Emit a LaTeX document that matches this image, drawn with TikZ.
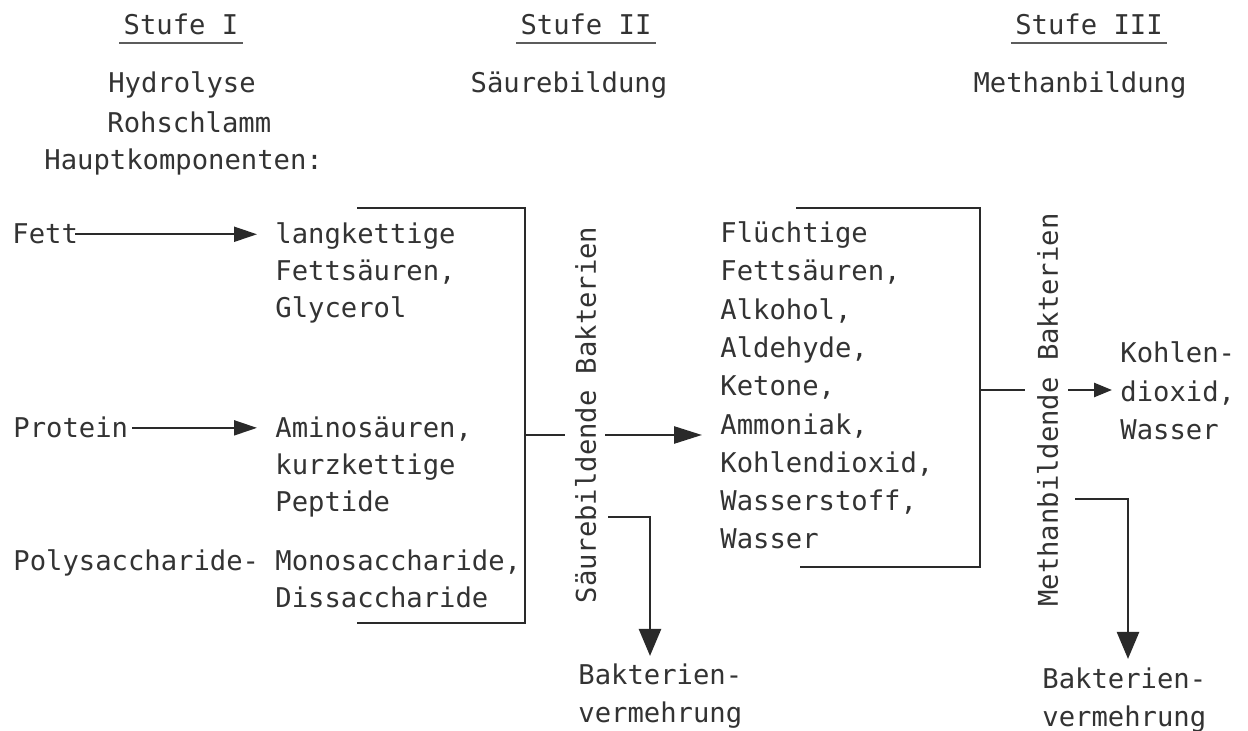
\documentclass[tikz,border=0pt]{standalone}
\usepackage{fontspec}
\newfontfamily\tw{DejaVu Sans Mono}
\usetikzlibrary{arrows.meta}
\definecolor{ink}{HTML}{333333}
\definecolor{lin}{HTML}{2A2A2A}
\tikzset{
  txt/.style={font=\tw\fontsize{13.6}{18.5}\selectfont, text=ink, inner sep=0pt, anchor=base west, align=left},
  ctr/.style={txt, anchor=base, align=center},
  ln/.style={draw=lin, line width=1.3pt},
  thinln/.style={draw=lin, line width=1pt},
  ul/.style={draw=ink!80, line width=0.9pt},
  arrA/.style={thinln, -{Triangle[length=11.5pt,width=7.5pt]}},
  arrB/.style={ln, -{Triangle[length=14pt,width=8.5pt]}},
  arrC/.style={ln, -{Triangle[length=9pt,width=7pt]}},
  arrD/.style={ln, -{Triangle[length=13.5pt,width=11pt]}},
  vtxt/.style={font=\tw\fontsize{13.6}{18.5}\selectfont, text=ink, inner sep=0pt, text height=9.9pt, text depth=0pt, rotate=90, anchor=center}
}
\begin{document}
\begin{tikzpicture}[x=0.5pt,y=-0.5pt]
\path[use as bounding box, fill=white] (0,0) rectangle (1248,731);
% headers
\node[ctr] (st1) at (181,35) {Stufe I};
\node[ctr] (st2) at (586,35) {Stufe II};
\node[ctr] (st3) at (1089,35) {Stufe III};
\draw[ul] ([xshift=-2pt,yshift=-4pt]st1.base west) -- ([xshift=2pt,yshift=-4pt]st1.base east);
\draw[ul] ([xshift=-2pt,yshift=-4pt]st2.base west) -- ([xshift=2pt,yshift=-4pt]st2.base east);
\draw[ul] ([xshift=-2pt,yshift=-4pt]st3.base west) -- ([xshift=2pt,yshift=-4pt]st3.base east);
\node[ctr] (hyd) at (182,93) {Hydrolyse};
\node[ctr] (sbild) at (569,93) {Säurebildung};
\node[ctr] (mbild) at (1080,93) {Methanbildung};
\node[txt] (roh) at (107,133) {Rohschlamm};
\node[txt] (haupt) at (44,170) {Hauptkomponenten:};
% left column
\node[txt] (fett) at (12,244) {Fett};
\node[txt] (prot) at (13,438) {Protein};
\node[txt] (poly) at (13,571) {Polysaccharide-};
% middle column (anchor = baseline of last line)
\node[txt] (lang) at (275,318) {langkettige\\Fettsäuren,\\Glycerol};
\node[txt] (amino) at (275,512) {Aminosäuren,\\kurzkettige\\Peptide};
\node[txt] (mono) at (275,608) {Monosaccharide,\\Dissaccharide};
% right column
\node[txt, font=\tw\fontsize{13.6}{19.15}\selectfont] (fl) at (720,549) {Flüchtige\\Fettsäuren,\\Alkohol,\\Aldehyde,\\Ketone,\\Ammoniak,\\Kohlendioxid,\\Wasserstoff,\\Wasser};
\node[txt, font=\tw\fontsize{13.6}{19.25}\selectfont] (ko) at (1120,440) {Kohlen-\\dioxid,\\Wasser};
\node[txt, font=\tw\fontsize{13.6}{19}\selectfont] (bak1) at (578,723) {Bakterien-\\vermehrung};
\node[txt, font=\tw\fontsize{13.6}{19}\selectfont] (bak2) at (1042,726) {Bakterien-\\vermehrung};
% vertical labels
\node[vtxt] (sb) at (586,415) {Säurebildende Bakterien};
\node[vtxt] (mb) at (1048,410) {Methanbildende Bakterien};
% arrows stage I
\draw[arrA] ([xshift=-1.5pt]fett.east) -- ([xshift=-9pt]lang.west |- fett.east);
\draw[arrA] ([xshift=2pt]prot.east) -- ([xshift=-9pt]amino.west |- prot.east);
% bracket 1
\coordinate (b1a) at (357,208);
\coordinate (b1b) at (525,208);
\coordinate (b1c) at (525,623);
\coordinate (b1d) at (357,623);
\coordinate (j1) at (525,435);
\draw[ln] (b1a) -- (b1b) -- (b1c) -- (b1d);
\draw[ln] (j1) -- ([xshift=-5.5pt]sb.north |- j1);
\draw[arrB] ([xshift=4.5pt]sb.south |- j1) -- ([xshift=-9pt]fl.west |- j1);
\coordinate (d1) at (650,517);
\draw[arrD] ([xshift=6pt]sb.south |- d1) -- (d1) -- ([yshift=4pt]bak1.north -| d1);
% bracket 2
\coordinate (b2a) at (796,208);
\coordinate (b2b) at (980,208);
\coordinate (b2c) at (980,567);
\coordinate (b2d) at (800,567);
\coordinate (j2) at (980,390);
\draw[ln] (b2a) -- (b2b) -- (b2c) -- (b2d);
\draw[ln] (j2) -- ([xshift=-6.5pt]mb.north |- j2);
\draw[arrC] ([xshift=5pt]mb.south |- j2) -- ([xshift=-4pt]ko.west |- j2);
\coordinate (d2) at (1128,499);
\draw[arrD] ([xshift=8.5pt]mb.south |- d2) -- (d2) -- ([yshift=4pt]bak2.north -| d2);
\end{tikzpicture}
\end{document}
